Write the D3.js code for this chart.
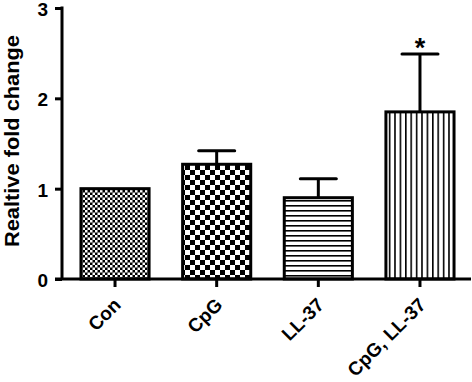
<!DOCTYPE html>
<html><head><meta charset="utf-8">
<script src="https://cdn.jsdelivr.net/npm/d3@7"></script>
<style>
html,body{margin:0;padding:0;background:#fff;}
svg{display:block;}
text{font-family:"Liberation Sans",Arial,sans-serif;font-weight:bold;fill:#000;}
</style></head>
<body>
<svg id="chart" width="472" height="382"></svg>
<script>
const categories = ["Con", "CpG", "LL-37", "CpG, LL-37"];
const means = [1.0, 1.27, 0.9, 1.85];
const errors = [0.0, 0.15, 0.21, 0.64];
const significance = ["", "", "", "*"];
const yTicks = [0, 1, 2, 3];
const patterns = ["fineCheck", "coarseCheck", "hLines", "vLines"];

const svg = d3.select("#chart");
const defs = svg.append("defs");

// fine checkerboard
const p1 = defs.append("pattern").attr("id","fineCheck").attr("patternUnits","userSpaceOnUse").attr("width",5).attr("height",5);
p1.append("rect").attr("width",5).attr("height",5).attr("fill","#000");
p1.append("rect").attr("x",0).attr("y",0).attr("width",2.5).attr("height",2.5).attr("fill","#fff");
p1.append("rect").attr("x",2.5).attr("y",2.5).attr("width",2.5).attr("height",2.5).attr("fill","#fff");
// coarse checkerboard
const p2 = defs.append("pattern").attr("id","coarseCheck").attr("patternUnits","userSpaceOnUse").attr("width",10).attr("height",10);
p2.append("rect").attr("width",10).attr("height",10).attr("fill","#fff");
p2.append("rect").attr("x",0).attr("y",0).attr("width",5).attr("height",5).attr("fill","#000");
p2.append("rect").attr("x",5).attr("y",5).attr("width",5).attr("height",5).attr("fill","#000");
// horizontal lines
const p3 = defs.append("pattern").attr("id","hLines").attr("patternUnits","userSpaceOnUse").attr("width",10).attr("height",5);
p3.append("rect").attr("width",10).attr("height",5).attr("fill","#fff");
p3.append("rect").attr("x",0).attr("y",0).attr("width",10).attr("height",1.6).attr("fill","#000");
// vertical lines
const p4 = defs.append("pattern").attr("id","vLines").attr("patternUnits","userSpaceOnUse").attr("width",5.4).attr("height",10);
p4.append("rect").attr("width",5.4).attr("height",10).attr("fill","#fff");
p4.append("rect").attr("x",0).attr("y",0).attr("width",1.6).attr("height",10).attr("fill","#000");

const x = d3.scaleBand().domain(categories).range([64.2, 470.8]).paddingInner(0.33).paddingOuter(0.165);
const y = d3.scaleLinear().domain([0, 3]).range([279, 8]);

const data = categories.map((c,i)=>({c, m:means[i], e:errors[i], s:significance[i], p:patterns[i]}));

// bars
svg.selectAll("rect.bar").data(data).join("rect").attr("class","bar")
  .attr("x", d=>x(d.c)).attr("y", d=>y(d.m))
  .attr("width", x.bandwidth()).attr("height", d=>y(0)-y(d.m))
  .attr("fill", d=>`url(#${d.p})`).attr("stroke","#000").attr("stroke-width",3);

// error bars
const capW = 36;
const eb = svg.selectAll("g.err").data(data.filter(d=>d.e>0)).join("g").attr("class","err");
eb.append("line").attr("x1",d=>x(d.c)+x.bandwidth()/2).attr("x2",d=>x(d.c)+x.bandwidth()/2)
  .attr("y1",d=>y(d.m)).attr("y2",d=>y(d.m+d.e)).attr("stroke","#000").attr("stroke-width",3);
eb.append("line").attr("x1",d=>x(d.c)+x.bandwidth()/2-capW/2).attr("x2",d=>x(d.c)+x.bandwidth()/2+capW/2)
  .attr("y1",d=>y(d.m+d.e)).attr("y2",d=>y(d.m+d.e)).attr("stroke","#000").attr("stroke-width",3).attr("stroke-linecap","round");

// significance
svg.selectAll("text.sig").data(data.filter(d=>d.s)).join("text").attr("class","sig")
  .attr("x",d=>x(d.c)+x.bandwidth()/2).attr("y",d=>y(d.m+d.e)+3)
  .attr("text-anchor","middle").style("font-size","27px").text(d=>d.s);

// y axis
const yAxis = svg.append("g").attr("transform","translate(62,0)")
  .call(d3.axisLeft(y).tickValues(yTicks).tickFormat(d3.format("d")).tickSize(7).tickPadding(7));
yAxis.select(".domain").attr("stroke-width",3).attr("d", `M0,${y(3)-1.5}V${y(0)}`);
yAxis.selectAll(".tick line").attr("stroke-width",3);
yAxis.selectAll(".tick text").style("font-size","19px").attr("font-family",null).attr("dy","0.4em");

// x axis
const xAxis = svg.append("g").attr("transform",`translate(0,${y(0)})`)
  .call(d3.axisBottom(x).tickSize(8).tickSizeOuter(0));
xAxis.select(".domain").attr("stroke-width",3).attr("d","M55,0H471");
xAxis.selectAll(".tick line").attr("stroke-width",3);
xAxis.selectAll(".tick text").style("font-size","19px").attr("font-family",null)
  .attr("text-anchor","end").attr("dy",null).attr("y",null)
  .attr("transform","translate(7,27) rotate(-45)");

// y label
svg.append("text").attr("transform","translate(19,141) rotate(-90)")
  .attr("text-anchor","middle").style("font-size","21px")
  .attr("textLength",212).attr("lengthAdjust","spacingAndGlyphs").text("Realtive fold change");
</script>
</body></html>
